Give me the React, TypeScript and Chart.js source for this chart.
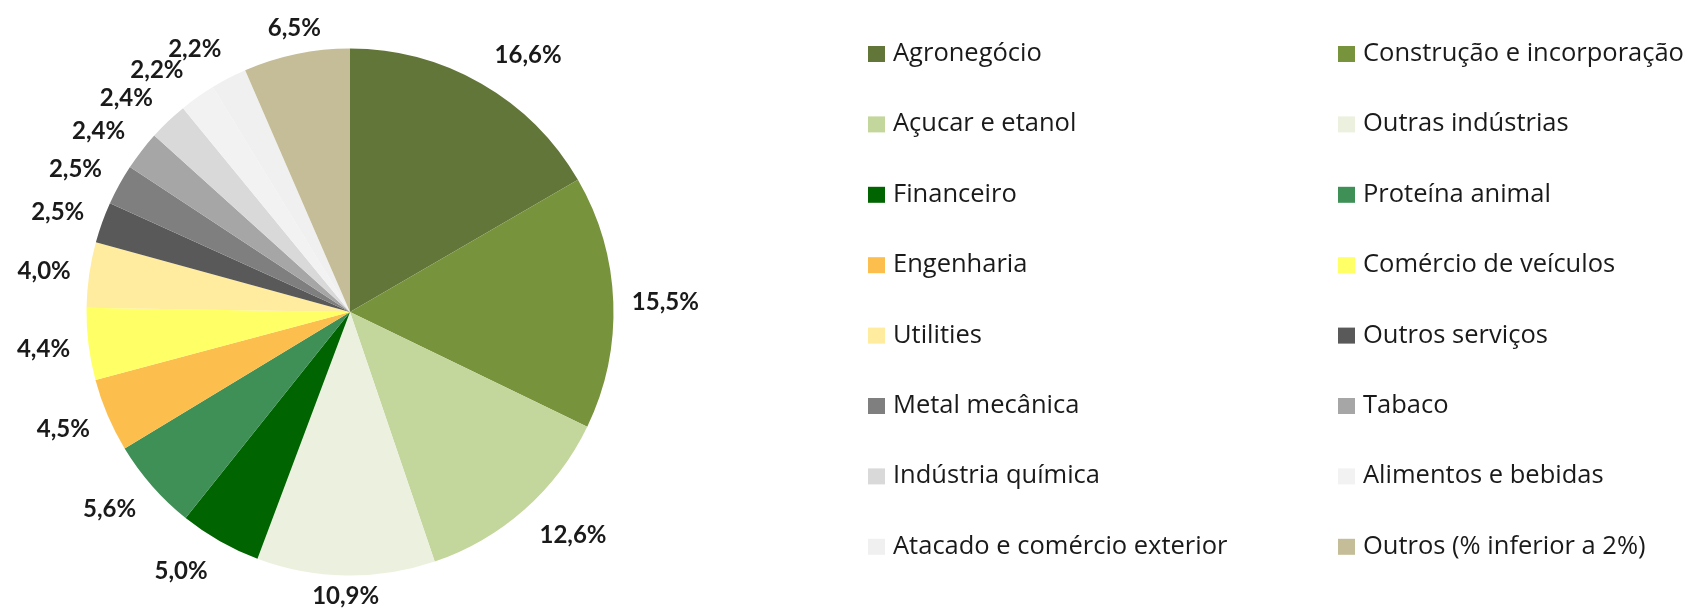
import React, { useEffect, useRef } from "react";
import { Chart, registerables } from "chart.js";

Chart.register(...registerables);

const categories = [
  "Agronegócio",
  "Construção e incorporação",
  "Açucar e etanol",
  "Outras indústrias",
  "Financeiro",
  "Proteína animal",
  "Engenharia",
  "Comércio de veículos",
  "Utilities",
  "Outros serviços",
  "Metal mecânica",
  "Tabaco",
  "Indústria química",
  "Alimentos e bebidas",
  "Atacado e comércio exterior",
  "Outros (% inferior a 2%)",
];

const values = [16.6, 15.5, 12.6, 10.9, 5.0, 5.6, 4.5, 4.4, 4.0, 2.5, 2.5, 2.4, 2.4, 2.2, 2.2, 6.5];

const colors = [
  "#63763A",
  "#77933C",
  "#C3D69B",
  "#EBF1DE",
  "#006400",
  "#3F9056",
  "#FCBF4E",
  "#FFFF66",
  "#FFEC9E",
  "#595959",
  "#7F7F7F",
  "#A6A6A6",
  "#D9D9D9",
  "#F2F2F2",
  "#F0F0F0",
  "#C4BD97",
];

const fmt = (v: number) => v.toFixed(1).replace(".", ",") + "%";

const LABEL_FONT = "bold 24px Lato";
const LABEL_GAP_X = 10.5;
const LABEL_PAD_X = 8;
const LABEL_GAP_Y = 33.5;
const LABEL_H = 18;
const LABEL_MIN_Y = 18;
const LABEL_MAX_Y = 604;

const outsideLabels = {
  id: "outsideLabels",
  afterDatasetsDraw(chart: any) {
    const ctx = chart.ctx as CanvasRenderingContext2D;
    const meta = chart.getDatasetMeta(0);
    const data = chart.data.datasets[0].data as number[];
    ctx.save();
    ctx.font = LABEL_FONT;
    ctx.fillStyle = "#1a1a1a";
    ctx.textAlign = "center";
    ctx.textBaseline = "middle";
    meta.data.forEach((arc: any, i: number) => {
      const p = arc.getProps(["x", "y", "startAngle", "endAngle", "outerRadius"], true);
      const mid = (p.startAngle + p.endAngle) / 2;
      const dx = Math.cos(mid);
      const dy = Math.sin(mid);
      const text = fmt(data[i]);
      const w = ctx.measureText(text).width;
      const ax = Math.abs(dx);
      const f = Math.min(1, Math.max(0, (ax - 0.25) / 0.25));
      const cx = p.x + dx * (p.outerRadius + LABEL_GAP_X) + Math.sign(dx) * f * (w / 2 + LABEL_PAD_X);
      let cy = p.y + dy * (p.outerRadius + LABEL_GAP_Y);
      cy = Math.max(LABEL_MIN_Y + LABEL_H / 2, Math.min(LABEL_MAX_Y - LABEL_H / 2, cy));
      ctx.fillText(text, cx, cy + 1);
    });
    ctx.restore();
  },
};

const LEGEND_COL_X = [868, 1338];
const LEGEND_FIRST_BASELINE = 61;
const LEGEND_ROW_STEP = 70.4;
const LEGEND_BOX_W = 17;
const LEGEND_BOX_H = 16;
const LEGEND_TEXT_DX = 25;

const gridLegend = {
  id: "gridLegend",
  afterDraw(chart: any) {
    const ctx = chart.ctx as CanvasRenderingContext2D;
    const labels = chart.data.labels as string[];
    const bg = chart.data.datasets[0].backgroundColor as string[];
    ctx.save();
    ctx.font = "25.5px 'Open Sans'";
    ctx.textAlign = "left";
    ctx.textBaseline = "alphabetic";
    labels.forEach((label, i) => {
      const col = i % 2;
      const row = Math.floor(i / 2);
      const x = LEGEND_COL_X[col];
      const base = LEGEND_FIRST_BASELINE + row * LEGEND_ROW_STEP;
      ctx.fillStyle = bg[i];
      ctx.fillRect(x, base - 15, LEGEND_BOX_W, LEGEND_BOX_H);
      ctx.fillStyle = "#1a1a1a";
      ctx.fillText(label, x + LEGEND_TEXT_DX, base);
    });
    ctx.restore();
  },
};

export default function App() {
  const ref = useRef<HTMLCanvasElement | null>(null);

  useEffect(() => {
    if (!ref.current) return;
    const chart = new Chart(ref.current, {
      type: "pie",
      data: {
        labels: categories,
        datasets: [
          {
            data: values,
            backgroundColor: colors,
            borderWidth: 0,
            hoverOffset: 0,
            offset: 0,
          },
        ],
      },
      options: {
        responsive: false,
        animation: false,
        events: [],
        layout: {
          padding: { left: 86.5, top: 48.5, right: 1074.5, bottom: 33.5 },
        },
        plugins: {
          legend: { display: false },
          tooltip: { enabled: false },
          title: { display: false },
        },
      },
      plugins: [outsideLabels, gridLegend],
    });
    return () => chart.destroy();
  }, []);

  return (
    <div style={{ position: "absolute", left: 0, top: 0, width: 1688, height: 609, background: "#ffffff" }}>
      <canvas ref={ref} width={1688} height={609} style={{ display: "block" }} />
    </div>
  );
}
